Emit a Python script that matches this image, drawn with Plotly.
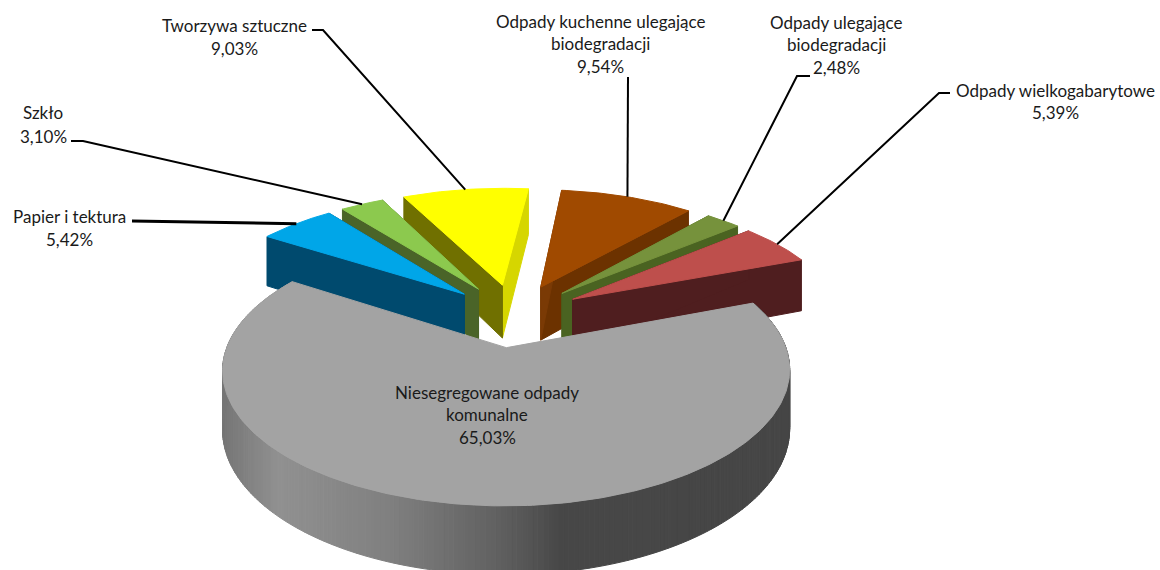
import math
import plotly.graph_objects as go

categories = ["Niesegregowane odpady<br>komunalne", "Papier i tektura", "Szkło", "Tworzywa sztuczne",
              "Odpady kuchenne ulegające<br>biodegradacji", "Odpady ulegające<br>biodegradacji",
              "Odpady wielkogabarytowe"]
values = [65.03, 5.42, 3.10, 9.03, 9.54, 2.48, 5.39]

top_colors = ["#A3A3A3", "#00A6E8", "#8CC94E", "#FFFF00", "#A04A00", "#76923C", "#BE4F4C"]
wall_left = ["#808080", "#004A6E", "#4A6428", "#707000", "#7A3A05", "#4A6321", "#4F1E1F"]
wall_right = ["#808080", "#004A6E", "#4A6428", "#D6D600", "#6C3200", "#4A6321", "#4F1E1F"]

W, H = 1160, 570
CX, CY, K, Q, P, EXPL, THICK = 514, 315, 268, 0.452, 0.16, 0.26, 55
START = 69.0


def project(x, y, z=1):
    s = 1 / (1 + P * y)
    return CX + K * x * s, CY - K * Q * y * s + (1 - z) * THICK * s


def ring(angle, offset):
    a = math.radians(angle)
    return offset[0] + math.sin(a), offset[1] + math.cos(a)


fig = go.Figure()


def poly(points, color):
    xs = [p[0] for p in points] + [points[0][0]]
    ys = [p[1] for p in points] + [points[0][1]]
    fig.add_trace(go.Scatter(x=xs, y=ys, mode="lines", fill="toself", fillcolor=color,
                             line=dict(color=color, width=1), hoverinfo="skip", showlegend=False))


spans = []
angle = START
for v in values:
    sweep = v / 100 * 360
    spans.append((angle, angle + sweep))
    angle += sweep


def offset_of(i):
    a0, a1 = spans[i]
    m = math.radians((a0 + a1) / 2)
    return EXPL * math.sin(m), EXPL * math.cos(m)


def arc_angles(a0, a1, n=40):
    return [a0 + (a1 - a0) * j / n for j in range(n + 1)]


def shade(t):
    stops = [(0.0, 118), (0.1, 145), (0.3, 128), (0.5, 95), (0.6, 72), (1.0, 70)]
    for (t0, v0), (t1, v1) in zip(stops, stops[1:]):
        if t <= t1:
            g = int(v0 + (v1 - v0) * (t - t0) / (t1 - t0))
            return f"rgb({g},{g},{g})"
    return "rgb(70,70,70)"


def draw_slice(i):
    off = offset_of(i)
    a0, a1 = spans[i]
    arc = arc_angles(a0, a1, 260 if i == 0 else 30)
    apex_top = project(off[0], off[1], 1)
    apex_bot = project(off[0], off[1], 0)
    p0t = project(*ring(a0, off), 1)
    p0b = project(*ring(a0, off), 0)
    p1t = project(*ring(a1, off), 1)
    p1b = project(*ring(a1, off), 0)
    outer = [ring(a, off) for a in arc]
    if i != 0:
        poly([apex_top, p1t, p1b, apex_bot], wall_right[i])
        poly([apex_top, p0t, p0b, apex_bot], wall_left[i])
    else:
        xs = [project(*o, 1)[0] for o in outer]
        lo, hi = min(xs), max(xs)
        for o0, o1 in zip(outer, outer[1:]):
            q = [project(*o0, 1), project(*o1, 1), project(*o1, 0), project(*o0, 0)]
            poly(q, shade((q[0][0] - lo) / (hi - lo)))
    poly([apex_top] + [project(*o, 1) for o in outer], top_colors[i])


for idx in [4, 3, 2, 5, 1, 6, 0]:
    draw_slice(idx)

leaders = {
    1: [(132, 221)],
    2: [(71, 141), (83, 141)],
    3: [(312, 30), (323, 30)],
    4: [(628, 77)],
    5: [(810, 76), (797, 76)],
    6: [(950, 93), (939, 93)],
}
widths = {1: 3}
for i, pts in leaders.items():
    off = offset_of(i)
    end = project(*ring(sum(spans[i]) / 2, off), 1)
    path = pts + [end]
    fig.add_trace(go.Scatter(x=[p[0] for p in path], y=[p[1] for p in path], mode="lines",
                             line=dict(color="#000000", width=widths.get(i, 2)),
                             hoverinfo="skip", showlegend=False))

label_x = [487, 69, 43, 234, 600, 836, 1055]
label_first_y = [392, 216, 112, 25, 21, 22, 90]
label_gap = [22.5, 23, 24, 23, 22.5, 22.5, 22.5]
annotations = []
for name, v, x, y0, gap in zip(categories, values, label_x, label_first_y, label_gap):
    lines = name.split("<br>") + [f"{v:.2f}%".replace(".", ",")]
    for n, line in enumerate(lines):
        annotations.append(dict(x=x, y=y0 + n * gap, xref="x", yref="y", showarrow=False, align="center",
                                text=line,
                                font=dict(family="Lato, Carlito, sans-serif", size=17, color="#1a1a1a")))

fig.update_layout(width=W, height=H, margin=dict(l=0, r=0, t=0, b=0), paper_bgcolor="white",
                  plot_bgcolor="white", showlegend=False, annotations=annotations,
                  xaxis=dict(range=[0, W], visible=False, fixedrange=True),
                  yaxis=dict(range=[H, 0], visible=False, fixedrange=True))
fig.write_html("out.html", config={"displayModeBar": False},
               post_script="document.body.style.margin='0';document.body.style.overflow='hidden';")
